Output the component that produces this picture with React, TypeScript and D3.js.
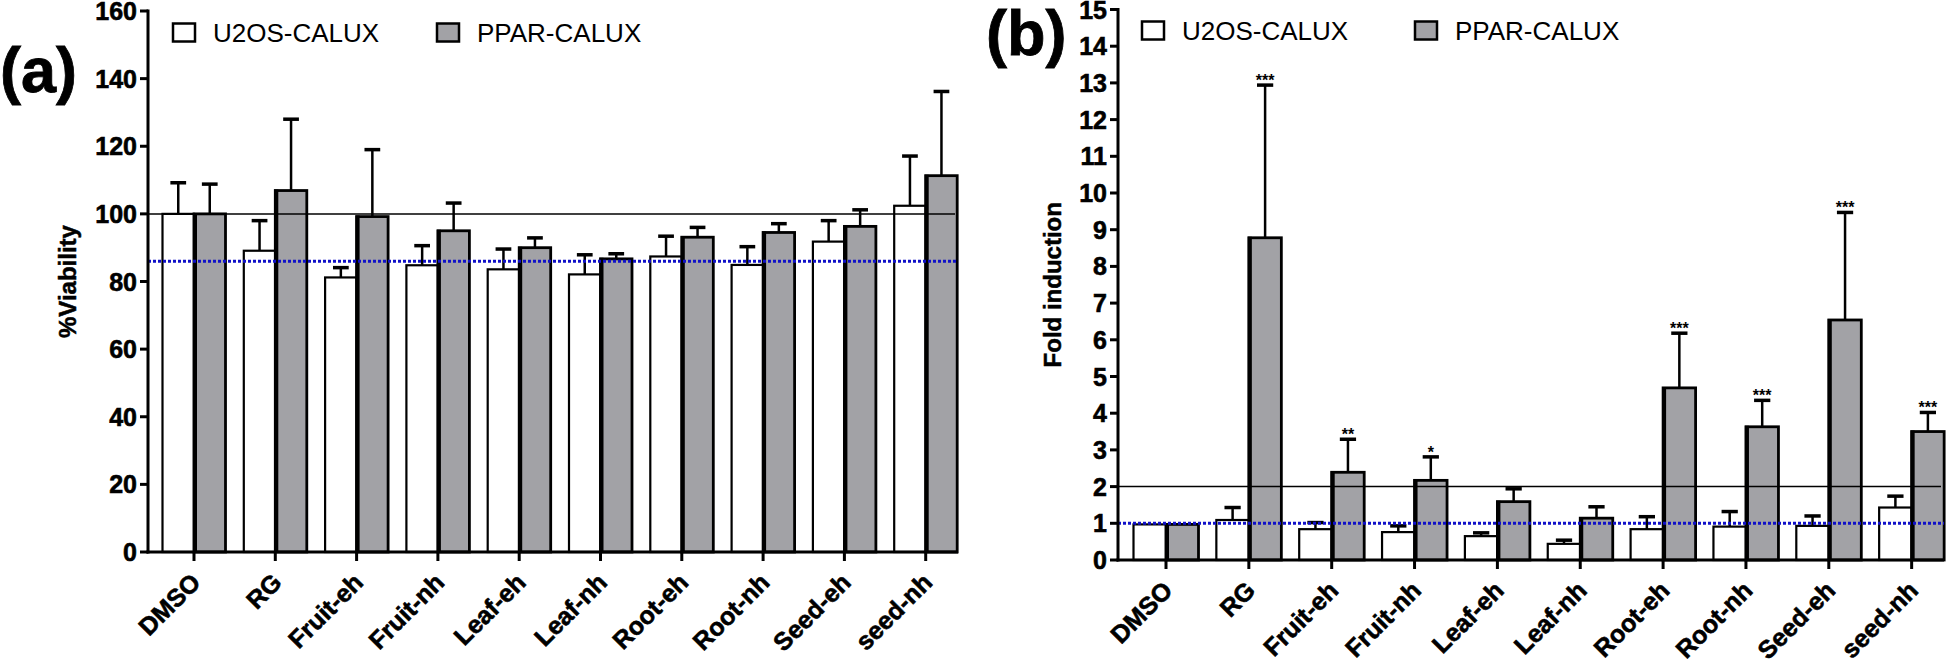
import * as d3 from "d3";
import React from "react";

const categories = ["DMSO", "RG", "Fruit-eh", "Fruit-nh", "Leaf-eh", "Leaf-nh", "Root-eh", "Root-nh", "Seed-eh", "seed-nh"];
const seriesNames = ["U2OS-CALUX", "PPAR-CALUX"];

// (a) %Viability
const viabU2OS = [100, 89.1, 81.2, 84.8, 83.6, 82.1, 87.4, 84.9, 91.8, 102.4];
const viabU2OSErr = [9.2, 8.9, 2.9, 5.8, 6.0, 5.8, 6.0, 5.4, 6.2, 14.7];
const viabPPAR = [100, 106.9, 99.2, 95.0, 90.0, 86.7, 93.1, 94.5, 96.3, 111.3];
const viabPPARErr = [8.8, 21.1, 19.8, 8.2, 2.9, 1.5, 2.9, 2.6, 4.9, 24.9];
const viabTicks = [0, 20, 40, 60, 80, 100, 120, 140, 160];

// (b) Fold induction
const foldU2OS = [0.97, 1.09, 0.84, 0.76, 0.65, 0.44, 0.84, 0.91, 0.93, 1.43];
const foldU2OSErr = [0, 0.34, 0.18, 0.17, 0.09, 0.1, 0.34, 0.41, 0.27, 0.31];
const foldPPAR = [0.97, 8.78, 2.39, 2.17, 1.59, 1.14, 4.69, 3.63, 6.54, 3.5];
const foldPPARErr = [0, 4.16, 0.9, 0.64, 0.35, 0.31, 1.49, 0.72, 2.93, 0.52];
const foldSig = ["", "***", "**", "*", "", "", "***", "***", "***", "***"];
const foldTicks = d3.range(0, 16);

const GRAY = "#a2a2a6";
const BLUE = "#1010c8";
const sans = "'Liberation Sans', Arial, sans-serif";

type PanelProps = {
  letter: string;
  letterX: number;
  letterY: number;
  title: string;
  titleX: number;
  axisX: number;
  axisEnd: number;
  y0: number;
  y1: number;
  yMax: number;
  ticks: number[];
  step: number;
  firstCenter: number;
  half: number;
  u2os: number[];
  u2osErr: number[];
  ppar: number[];
  pparErr: number[];
  sig?: string[];
  refLine: number;
  blueLine: number;
  legendX: number[];
  legendY: number;
};

function Panel(p: PanelProps) {
  const y = d3.scaleLinear().domain([0, p.yMax]).range([p.y0, p.y1]);
  const r0 = p.firstCenter - p.step / 2;
  const x = d3.scaleBand().domain(categories).range([r0, r0 + p.step * categories.length]).padding(0);
  const cx = (c: string) => (x(c) as number) + x.bandwidth() / 2;
  const capW = p.half / 2;

  const errBar = (xc: number, v: number, e: number, key: string) =>
    e > 0 ? (
      <g key={key}>
        <line x1={xc} x2={xc} y1={y(v)} y2={y(v + e)} stroke="#000" strokeWidth={2.5} />
        <line x1={xc - capW / 2} x2={xc + capW / 2} y1={y(v + e)} y2={y(v + e)} stroke="#000" strokeWidth={3.5} />
      </g>
    ) : null;

  return (
    <g>
      <text x={p.letterX} y={p.letterY} fontFamily={sans} fontWeight="bold" fontSize={63}
        stroke="#000" strokeWidth={0.8}>{p.letter}</text>
      <text transform={`translate(${p.titleX},${(p.y0 + p.y1) / 2}) rotate(-90)`} textAnchor="middle"
        fontFamily={sans} fontWeight="bold" fontSize={24} stroke="#000" strokeWidth={0.5}>{p.title}</text>

      {/* legend */}
      {seriesNames.map((s, i) => (
        <g key={s}>
          <rect x={p.legendX[i] - 40} y={p.legendY - 18} width={22} height={18}
            fill={i === 0 ? "#fff" : GRAY} stroke="#000" strokeWidth={2.5} />
          <text x={p.legendX[i]} y={p.legendY} fontFamily={sans} fontSize={26}>{s}</text>
        </g>
      ))}

      {/* bars */}
      {categories.map((c, i) => {
        const xc = cx(c);
        return (
          <g key={c}>
            <rect x={xc - p.half} y={y(p.u2os[i])} width={p.half} height={p.y0 - y(p.u2os[i])}
              fill="#fff" stroke="#000" strokeWidth={2.2} />
            <rect x={xc} y={y(p.ppar[i])} width={p.half} height={p.y0 - y(p.ppar[i])}
              fill={GRAY} stroke="#000" strokeWidth={2.8} />
            <line x1={xc + 1} x2={xc + 1} y1={y(p.ppar[i]) - 1} y2={p.y0} stroke="#000" strokeWidth={4} />
            {errBar(xc - p.half / 2, p.u2os[i], p.u2osErr[i], "eu")}
            {errBar(xc + p.half / 2, p.ppar[i], p.pparErr[i], "ep")}
            {p.sig && p.sig[i] ? (
              <text x={xc + p.half / 2} y={y(p.ppar[i] + p.pparErr[i]) + 1} textAnchor="middle"
                fontFamily={sans} fontWeight="bold" fontSize={16}>{p.sig[i]}</text>
            ) : null}
          </g>
        );
      })}

      {/* reference lines */}
      <line x1={p.axisX} x2={p.axisEnd - 3} y1={y(p.refLine)} y2={y(p.refLine)} stroke="#000" strokeWidth={1.5} />
      <line x1={p.axisX} x2={p.axisEnd} y1={y(p.blueLine)} y2={y(p.blueLine)} stroke={BLUE}
        strokeWidth={3} strokeDasharray="3,2" />

      {/* y axis */}
      <line x1={p.axisX} x2={p.axisX} y1={p.y1 - 1.5} y2={p.y0 + 1.5} stroke="#000" strokeWidth={3} />
      {p.ticks.map((t) => (
        <g key={t}>
          <line x1={p.axisX - 8} x2={p.axisX} y1={y(t)} y2={y(t)} stroke="#000" strokeWidth={3} />
          <text x={p.axisX - 11} y={y(t)} dy="0.36em" textAnchor="end" fontFamily={sans}
            fontWeight="bold" fontSize={25} stroke="#000" strokeWidth={0.6}>{t}</text>
        </g>
      ))}

      {/* x axis */}
      <line x1={p.axisX - 1.5} x2={p.axisEnd} y1={p.y0} y2={p.y0} stroke="#000" strokeWidth={3} />
      {categories.map((c) => (
        <g key={c}>
          <line x1={cx(c)} x2={cx(c)} y1={p.y0} y2={p.y0 + 9} stroke="#000" strokeWidth={3} />
          <text transform={`translate(${cx(c) + 8},${p.y0 + 32}) rotate(-45)`} textAnchor="end"
            fontFamily={sans} fontWeight="bold" fontSize={25} stroke="#000" strokeWidth={0.6}>{c}</text>
        </g>
      ))}
    </g>
  );
}

export default function App() {
  return (
    <svg width={1946} height={662} style={{ position: "absolute", left: 0, top: 0, background: "#fff" }}>
      <rect width={1946} height={662} fill="#fff" />
      <Panel letter="(a)" letterX={0} letterY={92} title="%Viability" titleX={76}
        axisX={148} axisEnd={958} y0={552} y1={11} yMax={160} ticks={viabTicks}
        step={81.3} firstCenter={194} half={31.5}
        u2os={viabU2OS} u2osErr={viabU2OSErr} ppar={viabPPAR} pparErr={viabPPARErr}
        refLine={100} blueLine={86} legendX={[213, 477]} legendY={41.5} />
      <Panel letter="(b)" letterX={986} letterY={55} title="Fold induction" titleX={1061}
        axisX={1118} axisEnd={1944} y0={560} y1={9.5} yMax={15} ticks={foldTicks}
        step={82.85} firstCenter={1166} half={32.5}
        u2os={foldU2OS} u2osErr={foldU2OSErr} ppar={foldPPAR} pparErr={foldPPARErr} sig={foldSig}
        refLine={2} blueLine={1} legendX={[1182, 1455]} legendY={39.5} />
    </svg>
  );
}
